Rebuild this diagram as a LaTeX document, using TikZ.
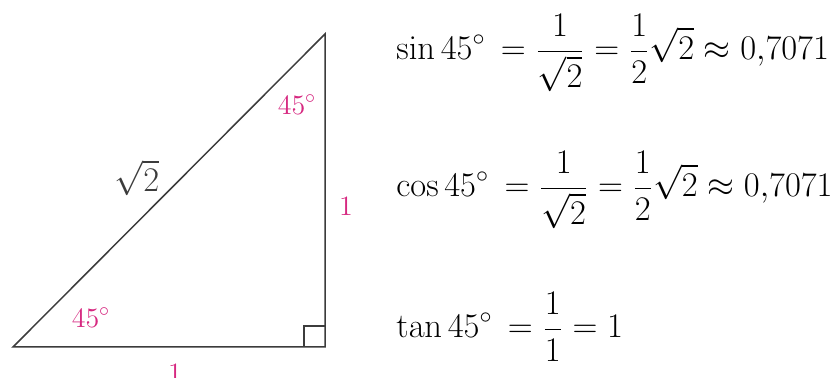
\documentclass[tikz,border=0pt]{standalone}
\usepackage{amsmath,amssymb}
\usetikzlibrary{positioning}
\definecolor{angmag}{RGB}{214,40,128}
\definecolor{edgegray}{RGB}{60,60,60}

\begin{document}
\begin{tikzpicture}[
  x=0.5pt, y=-0.5pt,
  edge/.style={draw=edgegray, line width=0.75pt, line join=miter},
  lbl/.style={inner sep=1pt, font=\fontsize{14}{16}\selectfont},
  ang/.style={lbl, text=angmag},
  eqn/.style={anchor=west, inner sep=0pt, font=\fontsize{16.8}{20}\selectfont},
]
  \useasboundingbox (0,0) rectangle (835,378);

  \coordinate (A) at (13,347);
  \coordinate (B) at (325,347);
  \coordinate (C) at (325,34);

  \draw[edge] (A) -- (B) -- (C) -- cycle;
  \draw[edge, line width=0.6pt] ([xshift=-10.5pt]B) |- ([yshift=10.5pt]B);

  \node[ang] (angC) at (297,105) {45$^\circ$};
  \node[ang] (angA) at (91,318) {45$^\circ$};
  \node[lbl, font=\fontsize{16}{18}\selectfont, text=edgegray] (hyp) at (137,178) {$\sqrt{2}$};
  \node[ang] (sideR) at (346,206) {1};
  \node[ang] (sideB) at (175,373) {1};

  \node[eqn] (sin) at (396,53)
    {$\displaystyle \sin 45^{\circ}\, = \frac{1}{\sqrt{2}} = \frac{1}{2}\sqrt{2} \approx 0{,}7071$};
  \node[eqn] (cos) at (396,190)
    {$\displaystyle \cos 45^{\circ}\, = \frac{1}{\sqrt{2}} = \frac{1}{2}\sqrt{2} \approx 0{,}7071$};
  \node[eqn] (tan) at (396,327)
    {$\displaystyle \tan 45^{\circ}\, = \frac{1}{1} = 1$};
\end{tikzpicture}
\end{document}
